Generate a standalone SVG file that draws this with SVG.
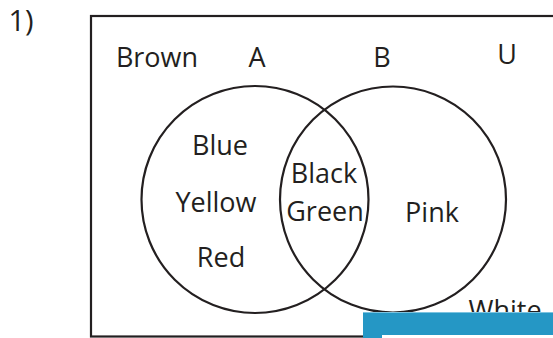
<svg xmlns="http://www.w3.org/2000/svg" width="553" height="338" viewBox="0 0 553 338">
  <style>
    .t { font-family: "Open Sans", "Noto Sans", "Liberation Sans", sans-serif; font-size: 27px; fill: #231f20; text-anchor: middle; }
    .ln { fill: none; stroke: #231f20; stroke-width: 2.2; }
  </style>
  <rect width="553" height="338" fill="#ffffff"/>
  <text class="t" x="21" y="31" style="font-size:29px">1)</text>
  <g id="universe">
    <rect class="ln" x="91" y="16" width="520" height="320.5"/>
    <text class="t" x="157" y="67">Brown</text>
    <text class="t" x="507" y="64">U</text>
    <text class="t" x="505" y="320">White</text>
  </g>
  <g id="setA">
    <circle class="ln" cx="255" cy="199.5" r="113.5"/>
    <text class="t" x="257" y="67">A</text>
    <text class="t" x="220" y="155">Blue</text>
    <text class="t" x="216" y="212">Yellow</text>
    <text class="t" x="221" y="267">Red</text>
  </g>
  <g id="setB">
    <circle class="ln" cx="393" cy="199.5" r="113"/>
    <text class="t" x="382" y="67">B</text>
    <text class="t" x="432" y="222">Pink</text>
  </g>
  <g id="intersection">
    <text class="t" x="324" y="183">Black</text>
    <text class="t" x="325" y="221">Green</text>
  </g>
  <g id="overlay">
    <rect x="363" y="312" width="190" height="26" fill="#2597c5"/>
    <rect x="363" y="312" width="190" height="1" fill="#7cc3e0"/>
    <rect x="382" y="335" width="171" height="3" fill="#ffffff"/>
  </g>
</svg>
